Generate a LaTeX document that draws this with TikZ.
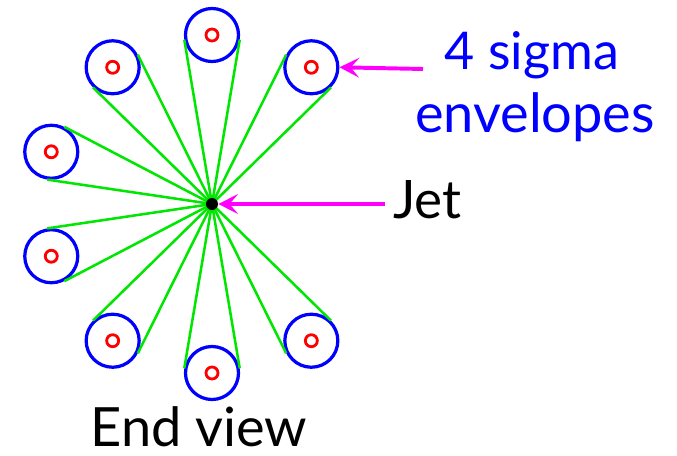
\documentclass[tikz,border=0pt]{standalone}
\usepackage{fontspec}
\setmainfont{Lato}
\usetikzlibrary{arrows.meta,calc}

\definecolor{envblue}{RGB}{0,0,255}
\definecolor{raygreen}{RGB}{0,230,0}
\definecolor{pointmag}{RGB}{255,0,255}

\tikzset{
  envelope/.style={circle, draw=envblue, line width=2.3pt, minimum size=1.325cm, inner sep=0pt},
  core/.style={circle, draw=red, line width=2pt, minimum size=0.3cm, inner sep=0pt},
  ray/.style={draw=raygreen, line width=1.8pt},
  pointer/.style={draw=pointmag, line width=2.8pt, -{Stealth[length=14pt,width=14pt,inset=6pt]}},
  label/.style={font=\fontsize{36pt}{40pt}\selectfont, inner sep=0pt}
}

\begin{document}
\begin{tikzpicture}[x=0.025cm, y=0.025cm]

  \useasboundingbox (-212,-251) rectangle (465,204);

  % ==========================================
  % Jet and the ring of 4 sigma envelopes
  % ==========================================

  \coordinate (J) at (0,0);

  % Envelopes every 36 degrees, the two on the right left out
  \foreach \a [count=\i] in {54,90,126,162,198,234,270,306} {
    \node[envelope] (e\i) at (\a:169) {};
    \node[core] (c\i) at (e\i.center) {};
  }

  % Tangent lines from the jet to each envelope
  \foreach \i in {1,...,8} {
    \draw[ray] (J) -- (tangent cs:node=e\i,point={(J)},solution=1);
    \draw[ray] (J) -- (tangent cs:node=e\i,point={(J)},solution=2);
  }

  % Jet dot
  \node[circle, fill=black, minimum size=0.3cm, inner sep=0pt] (jet) at (J) {};

  % ==========================================
  % Labels and pointers
  % ==========================================

  \coordinate (jettail) at (173,0);
  \coordinate (sigtail) at (211,135);

  \draw[pointer] (jettail) -- (jet);
  \draw[pointer] (sigtail) -- (e1.east);

  \node[label, anchor=base west, font=\fontsize{37.7pt}{40pt}\selectfont] (jetlab) at (181,-14) {Jet};
  \node[label, anchor=base, text=envblue, font=\fontsize{37pt}{40pt}\selectfont] (sig) at (532-212,135) {4 sigma};
  \node[label, anchor=base, text=envblue, font=\fontsize{38.5pt}{40pt}\selectfont] (env) at (535-212,72) {envelopes};
  \node[label, anchor=base, font=\fontsize{38.5pt}{44pt}\selectfont] (endview) at (-13,-242) {End view};

\end{tikzpicture}
\end{document}
